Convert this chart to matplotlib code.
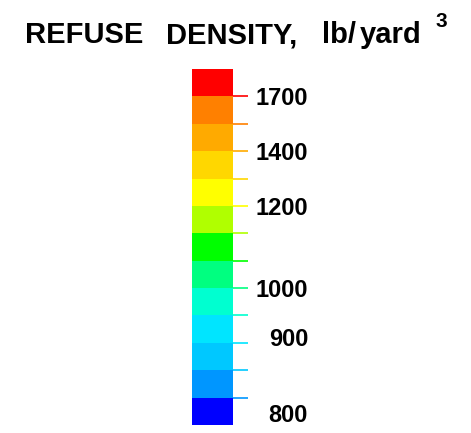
import matplotlib
matplotlib.use("Agg")
import matplotlib.pyplot as plt
import numpy as np

plt.rcParams['font.family'] = ['Liberation Sans', 'DejaVu Sans']
plt.rcParams['font.weight'] = 'bold'

# bin colours, bottom to top
colors = ['#0000ff', '#0096ff', '#00c8ff', '#00e5ff', '#00ffd0', '#00ff80',
          '#00ff00', '#b0ff00', '#ffff00', '#ffd700', '#ffaa00', '#ff8000', '#ff0000']
# bin edges in lb/yard^3 (inner edges are unlabelled, estimated)
bounds = [785, 820, 855, 890, 940, 1000, 1067, 1133, 1200, 1300, 1400, 1550, 1700, 1850]
labels = [800, 900, 1000, 1200, 1400, 1700]

idx = np.arange(len(bounds))

fig = plt.figure(figsize=(4.71, 4.33), dpi=100)
cax = fig.add_axes([192/471, 8/433, 41/471, 356/433])
for i, c in enumerate(colors):
    cax.bar(0, 1, bottom=idx[i], width=1, color=c, align='edge', linewidth=0)
cax.set_xlim(0, 1)
cax.set_ylim(idx[0], idx[-1])
for s in cax.spines.values():
    s.set_visible(False)
cax.set_xticks([])

cax.yaxis.remove_overlapping_locs = False
cax.yaxis.tick_right()
cax.set_yticks(np.interp(labels, bounds, idx))
cax.set_yticklabels([str(v) for v in labels])
cax.set_yticks(idx[1:-1], minor=True)
cax.tick_params(axis='y', which='major', length=0, pad=54, labelsize=17,
                left=False, right=True)
cax.tick_params(axis='y', which='minor', length=10.8, width=1.2,
                left=False, right=True)
for lab in cax.get_yticklabels():
    lab.set_horizontalalignment('right')
    lab.set_fontweight('bold')

fig.canvas.draw()
for i, t in enumerate(cax.yaxis.get_minor_ticks()):
    t.tick2line.set_markeredgecolor(colors[i + 1])
    t.tick2line.set_color(colors[i + 1])

fs = 21
y = 1 - 43/433
fig.text(25/471, y, 'REFUSE', fontsize=fs, ha='left', va='baseline')
fig.text(166/471, y, 'DENSITY,', fontsize=fs, ha='left', va='baseline')
fig.text(322/471, y, 'lb/', fontsize=fs, ha='left', va='baseline')
fig.text(360/471, y, 'yard', fontsize=fs, ha='left', va='baseline')
fig.text(435/471, 1 - 27/433, '3', fontsize=15, ha='left', va='baseline')

fig.savefig("out.png", dpi=100)
